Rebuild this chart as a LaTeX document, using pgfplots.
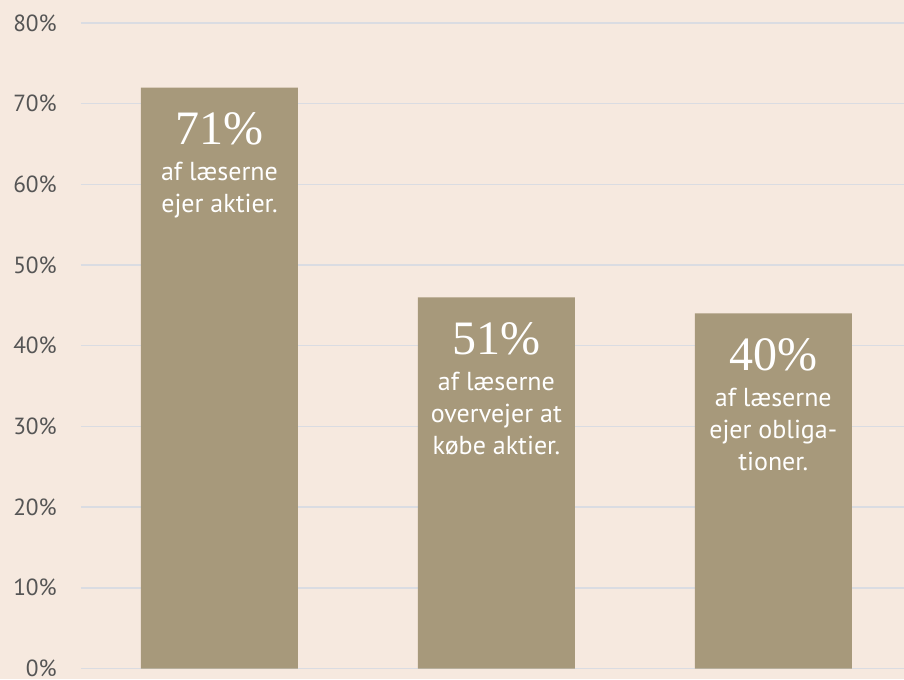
\documentclass[border=0pt]{standalone}
\usepackage{pgfplots}
\pgfplotsset{compat=1.18}
\usepackage{fontspec}
\setmainfont{PT Sans}
\newfontfamily\serifnum{Liberation Serif}
\definecolor{bgc}{RGB}{246,233,223}
\definecolor{barc}{RGB}{167,153,123}
\definecolor{gridc}{RGB}{218,220,226}
\definecolor{tickc}{RGB}{85,85,85}
\begin{document}
\begin{tikzpicture}
\fill[bgc] (-60.75pt,-7.875pt) rectangle (617.25pt,501.375pt);
\begin{axis}[
  scale only axis,
  width=617.25pt, height=484.125pt,
  xmin=-0.5, xmax=2.472,
  ymin=0, ymax=80,
  ytick={0,10,...,80},
  yticklabel={\pgfmathprintnumber{\tick}\%},
  /pgf/number format/assume math mode=true,
  yticklabel style={font=\fontsize{17.5}{19}\selectfont, text=tickc, inner sep=0pt, xshift=-18pt},
  xtick=\empty,
  major tick length=0pt,
  axis line style={draw=none},
  ymajorgrids,
  grid style={draw=gridc, line width=1.1pt},
  ybar, bar width=117.75pt,
  clip=false,
]
\addplot[fill=barc, draw=none] coordinates {(0,72) (1,46) (2,44)};
\def\big{\serifnum\fontsize{36}{36}\selectfont}
\def\sm{\fontsize{19.5}{22}\selectfont}
% bar 1
\node[anchor=base, text=white, inner sep=0pt] at (axis cs:0,72) [yshift=-42.75pt] {\big 71\%};
\node[anchor=base, text=white, inner sep=0pt] at (axis cs:0,72) [yshift=-69.75pt] {\sm af læserne};
\node[anchor=base, text=white, inner sep=0pt] at (axis cs:0,72) [yshift=-93.75pt] {\sm ejer aktier.};
% bar 2
\node[anchor=base, text=white, inner sep=0pt] at (axis cs:1,46) [yshift=-42.75pt] {\big 51\%};
\node[anchor=base, text=white, inner sep=0pt] at (axis cs:1,46) [yshift=-69.75pt] {\sm af læserne};
\node[anchor=base, text=white, inner sep=0pt] at (axis cs:1,46) [yshift=-93.75pt] {\sm overvejer at};
\node[anchor=base, text=white, inner sep=0pt] at (axis cs:1,46) [yshift=-117.75pt] {\sm købe aktier.};
% bar 3
\node[anchor=base, text=white, inner sep=0pt] at (axis cs:2,44) [yshift=-42.75pt] {\big 40\%};
\node[anchor=base, text=white, inner sep=0pt] at (axis cs:2,44) [yshift=-69.75pt] {\sm af læserne};
\node[anchor=base, text=white, inner sep=0pt] at (axis cs:2,44) [yshift=-93.75pt] {\sm ejer obliga-};
\node[anchor=base, text=white, inner sep=0pt] at (axis cs:2,44) [yshift=-117.75pt] {\sm tioner.};
\end{axis}
\pgfresetboundingbox
\path (-60.75pt,-7.875pt) rectangle (617.25pt,501.375pt);
\end{tikzpicture}
\end{document}
